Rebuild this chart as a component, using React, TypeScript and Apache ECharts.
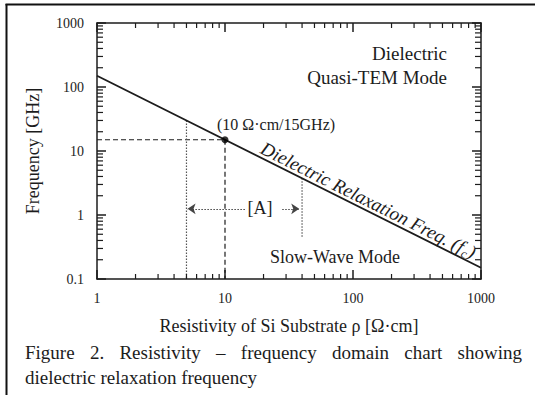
import React, { useEffect, useRef } from "react";
import * as echarts from "echarts";

// ---- data ----
const xTickLabels = ["1", "10", "100", "1000"];
const yTickLabels = ["0.1", "1", "10", "100", "1000"];
const xDecades = [1, 10, 100];
const yDecades = [0.1, 1, 10, 100];
const minorMultipliers = [2, 3, 4, 5, 6, 7, 8, 9];

// dielectric relaxation frequency line (GHz vs Ω·cm)
const relaxationLine = [
  [1, 150],
  [1000, 0.15],
];
const markerPoint = [[10, 15]];
const dashedGuide = [
  [1, 15],
  [10, 15],
  [10, 0.1],
];
const dottedLeft = [
  [5, 30],
  [5, 0.1],
];
const dottedRight = [
  [40, 3.75],
  [40, 0.45],
];
const arrowLeft = [
  [14.3, 1.25],
  [5.1, 1.25],
];
const arrowRight = [
  [28, 1.25],
  [38, 1.25],
];

const captionLine1 = ["Figure", "2.", "Resistivity", "–", "frequency", "domain", "chart", "showing"];
const captionLine2 = "dielectric relaxation frequency";

const SERIF = "'Liberation Serif', 'Times New Roman', 'DejaVu Serif', serif";
const INK = "#1c1c1c";

function labelFor(list: string[]) {
  return (v: number) => {
    const n = parseFloat(Number(v).toPrecision(4));
    const hit = list.find((l) => parseFloat(l) === n);
    return hit ?? "";
  };
}

function measure(text: string, font: string) {
  const canvas = document.createElement("canvas");
  const ctx = canvas.getContext("2d")!;
  ctx.font = font;
  return ctx.measureText(text).width;
}

function justifiedWords(words: string[], x0: number, x1: number, y: number, font: string) {
  const widths = words.map((w) => measure(w, font));
  const total = widths.reduce((a, b) => a + b, 0);
  const gap = (x1 - x0 - total) / (words.length - 1);
  let x = x0;
  return words.map((w, i) => {
    const el = {
      type: "text",
      x,
      y,
      style: { text: w, font, fill: INK, align: "left", verticalAlign: "middle" },
      silent: true,
    };
    x += widths[i] + gap;
    return el;
  });
}

function slopedLabel(cx: number, cy: number, angle: number) {
  const mainFont = `italic 19px ${SERIF}`;
  const subFont = `italic 12px ${SERIF}`;
  const t1 = "Dielectric Relaxation Freq. (f";
  const t2 = "c";
  const t3 = ")";
  const w1 = measure(t1, mainFont);
  const w2 = measure(t2, subFont);
  const w3 = measure(t3, mainFont);
  const start = -(w1 + w2 + w3) / 2;
  return {
    type: "group",
    x: cx,
    y: cy,
    rotation: angle,
    silent: true,
    children: [
      { type: "text", x: start, y: 0, style: { text: t1, font: mainFont, fill: INK, align: "left", verticalAlign: "middle" } },
      { type: "text", x: start + w1 + 0.5, y: 5, style: { text: t2, font: subFont, fill: INK, align: "left", verticalAlign: "middle" } },
      { type: "text", x: start + w1 + w2 + 1, y: 0, style: { text: t3, font: mainFont, fill: INK, align: "left", verticalAlign: "middle" } },
    ],
  };
}

export default function App() {
  const ref = useRef<HTMLDivElement>(null);

  useEffect(() => {
    if (!ref.current) return;
    const chart = echarts.init(ref.current, undefined, { renderer: "svg" });

    const xMinor: number[][] = [];
    xDecades.forEach((d) => minorMultipliers.forEach((m) => xMinor.push([d * m, 1])));
    const yMinor: number[][] = [];
    yDecades.forEach((d) => minorMultipliers.forEach((m) => yMinor.push([1, d * m])));

    const axisLine = { show: true, lineStyle: { color: INK, width: 1.5 } };
    const axisTick = { show: true, inside: true, length: 9, lineStyle: { color: INK, width: 1.5 } };
    const baseX = { type: "log", logBase: 10, min: 1, max: 1000, splitLine: { show: false }, axisLine, axisTick };
    const baseY = { type: "log", logBase: 10, min: 0.1, max: 1000, splitLine: { show: false }, axisLine, axisTick };

    const captionFont = `19px ${SERIF}`;

    const option: any = {
      animation: false,
      backgroundColor: "#ffffff",
      grid: { left: 97, top: 23, right: 54, bottom: 116, containLabel: false },
      xAxis: [
        {
          ...baseX,
          position: "bottom",
          axisLabel: {
            margin: 12,
            fontSize: 14,
            fontFamily: SERIF,
            color: INK,
            showMinLabel: true,
            showMaxLabel: true,
            formatter: labelFor(xTickLabels),
          },
          name: "Resistivity of Si Substrate ρ [Ω·cm]",
          nameLocation: "middle",
          nameGap: 38,
          nameTextStyle: { fontSize: 18, fontFamily: SERIF, color: INK },
        },
        { ...baseX, position: "top", axisLabel: { show: false } },
      ],
      yAxis: [
        {
          ...baseY,
          position: "left",
          axisLabel: {
            margin: 13,
            fontSize: 14,
            fontFamily: SERIF,
            color: INK,
            showMinLabel: true,
            showMaxLabel: true,
            formatter: labelFor(yTickLabels),
          },
          name: "Frequency [GHz]",
          nameLocation: "middle",
          nameGap: 55,
          nameTextStyle: { fontSize: 18, fontFamily: SERIF, color: INK },
        },
        { ...baseY, position: "right", axisLabel: { show: false } },
      ],
      series: [
        {
          name: "Dielectric Relaxation Freq.",
          type: "line",
          data: relaxationLine,
          symbol: "none",
          lineStyle: { color: INK, width: 1.8 },
          silent: true,
          z: 5,
        },
        {
          name: "guide",
          type: "line",
          data: dashedGuide,
          symbol: "none",
          lineStyle: { color: INK, width: 1.2, type: [5, 3] },
          silent: true,
        },
        {
          name: "boundLeft",
          type: "line",
          data: dottedLeft,
          symbol: "none",
          lineStyle: { color: "#555", width: 1.2, type: [1.5, 1.5] },
          silent: true,
          markLine: {
            silent: true,
            symbol: ["none", "arrow"],
            symbolSize: 8,
            label: { show: false },
            itemStyle: { color: "#444" },
            lineStyle: { color: "#444", width: 1.2, type: [1.5, 1.5] },
            data: [
              [{ coord: arrowLeft[0] }, { coord: arrowLeft[1] }],
              [{ coord: arrowRight[0] }, { coord: arrowRight[1] }],
            ],
          },
        },
        {
          name: "boundRight",
          type: "line",
          data: dottedRight,
          symbol: "none",
          lineStyle: { color: "#555", width: 1.2, type: [1.5, 1.5] },
          silent: true,
        },
        {
          name: "point",
          type: "scatter",
          data: markerPoint,
          symbol: "circle",
          symbolSize: 7,
          itemStyle: { color: "#000" },
          silent: true,
          z: 6,
        },
        {
          name: "xMinorTicks",
          type: "custom",
          coordinateSystem: "cartesian2d",
          data: xMinor,
          silent: true,
          clip: false,
          z: 4,
          renderItem: (params: any, api: any) => {
            const cs = params.coordSys;
            const px = api.coord([api.value(0), 1])[0];
            const bottom = cs.y + cs.height;
            const st = { stroke: INK, lineWidth: 1.2 };
            return {
              type: "group",
              children: [
                { type: "line", shape: { x1: px, y1: bottom, x2: px, y2: bottom - 5 }, style: st },
                { type: "line", shape: { x1: px, y1: cs.y, x2: px, y2: cs.y + 5 }, style: st },
              ],
            };
          },
        },
        {
          name: "yMinorTicks",
          type: "custom",
          coordinateSystem: "cartesian2d",
          data: yMinor,
          silent: true,
          clip: false,
          z: 4,
          renderItem: (params: any, api: any) => {
            const cs = params.coordSys;
            const py = api.coord([1, api.value(1)])[1];
            const right = cs.x + cs.width;
            const st = { stroke: INK, lineWidth: 1.2 };
            return {
              type: "group",
              children: [
                { type: "line", shape: { x1: cs.x, y1: py, x2: cs.x + 6, y2: py }, style: st },
                { type: "line", shape: { x1: right, y1: py, x2: right - 6, y2: py }, style: st },
              ],
            };
          },
        },
      ],
      graphic: [
        // frame
        { type: "line", shape: { x1: 5.5, y1: 4.5, x2: 535, y2: 4.5 }, style: { stroke: "#111", lineWidth: 2 }, silent: true },
        { type: "line", shape: { x1: 6.5, y1: 4, x2: 6.5, y2: 395 }, style: { stroke: "#111", lineWidth: 2 }, silent: true },
        // region labels
        { type: "text", x: 447, y: 53, style: { text: "Dielectric", font: `19px ${SERIF}`, fill: INK, align: "right", verticalAlign: "middle" }, silent: true },
        { type: "text", x: 447, y: 77, style: { text: "Quasi-TEM Mode", font: `19px ${SERIF}`, fill: INK, align: "right", verticalAlign: "middle" }, silent: true },
        { type: "text", x: 217, y: 124, style: { text: "(10 Ω·cm/15GHz)", font: `16px ${SERIF}`, fill: INK, align: "left", verticalAlign: "middle" }, silent: true },
        { type: "text", x: 260, y: 208, style: { text: "[A]", font: `18px ${SERIF}`, fill: INK, align: "center", verticalAlign: "middle" }, silent: true },
        { type: "text", x: 270, y: 257, style: { text: "Slow-Wave Mode", font: `18px ${SERIF}`, fill: INK, align: "left", verticalAlign: "middle" }, silent: true },
        slopedLabel(368, 200, -Math.atan(0.5)),
        // caption
        ...justifiedWords(captionLine1, 25, 522, 352, captionFont),
        { type: "text", x: 25, y: 377, style: { text: captionLine2, font: captionFont, fill: INK, align: "left", verticalAlign: "middle" }, silent: true },
      ],
    };

    chart.setOption(option);
    return () => chart.dispose();
  }, []);

  return (
    <div
      ref={ref}
      style={{ position: "fixed", left: 0, top: 0, width: 535, height: 395, background: "#fff" }}
    />
  );
}
